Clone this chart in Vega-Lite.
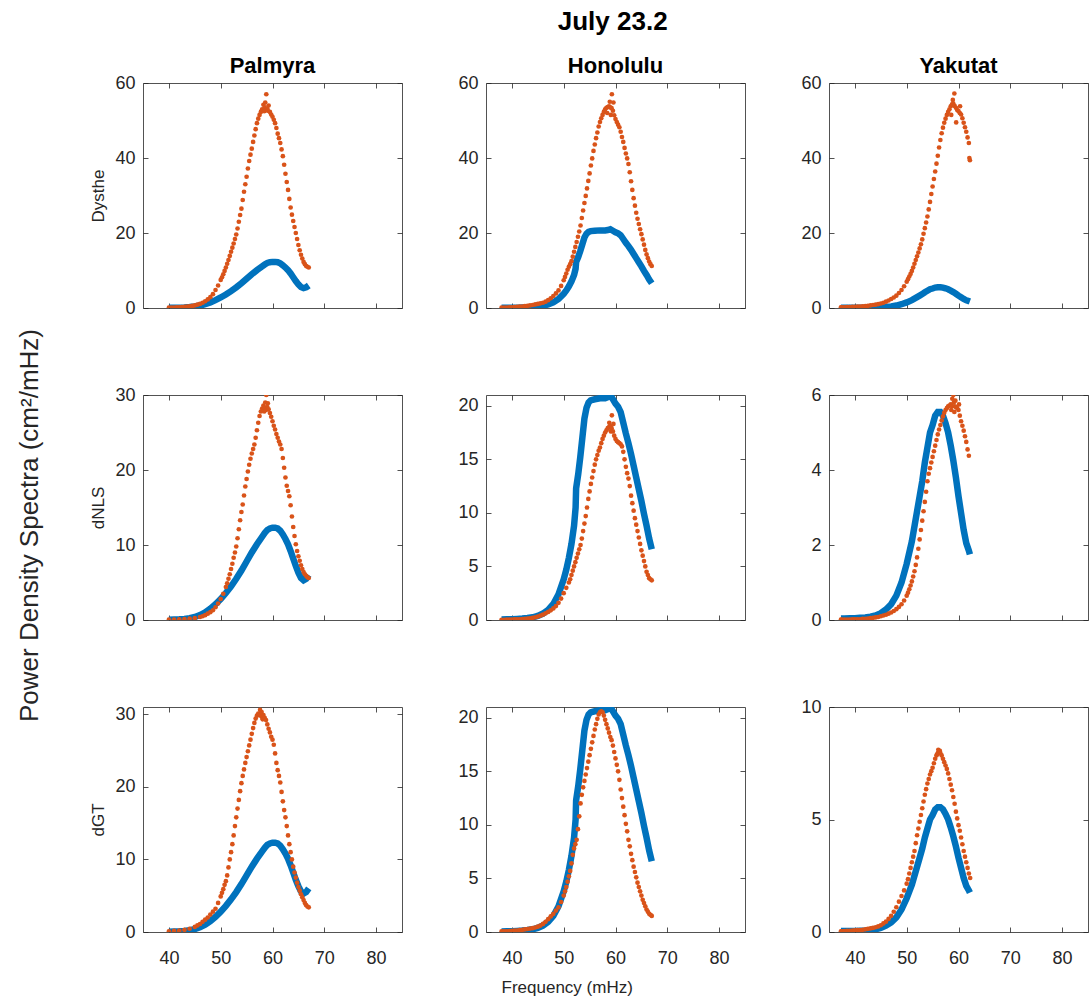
{
"$schema": "https://vega.github.io/schema/vega-lite/v6.json",
"background": "white",
"padding": {"left": 16, "top": 9, "right": 0, "bottom": 0},
"title": {"text": "July 23.2", "fontSize": 26, "fontWeight": "bold", "color": "#000000", "anchor": "middle", "offset": 20, "dx": 60},
"datasets": {
"obs_Palmyra": [{"freq":40,"psd":0.05},{"freq":41,"psd":0.07},{"freq":42,"psd":0.1},{"freq":43,"psd":0.15},{"freq":44,"psd":0.25},{"freq":45,"psd":0.4},{"freq":46,"psd":0.65},{"freq":47,"psd":1.0},{"freq":48,"psd":1.5},{"freq":49,"psd":2.1},{"freq":50,"psd":2.8},{"freq":51,"psd":3.6},{"freq":52,"psd":4.5},{"freq":53,"psd":5.5},{"freq":54,"psd":6.6},{"freq":55,"psd":7.8},{"freq":56,"psd":9.0},{"freq":57,"psd":10.1},{"freq":58,"psd":11.1},{"freq":58.5,"psd":11.6},{"freq":59,"psd":12.0},{"freq":59.5,"psd":12.2},{"freq":60,"psd":12.3},{"freq":60.5,"psd":12.3},{"freq":61,"psd":12.2},{"freq":61.5,"psd":11.9},{"freq":62,"psd":11.4},{"freq":62.5,"psd":10.8},{"freq":63,"psd":10.1},{"freq":63.5,"psd":9.2},{"freq":64,"psd":8.2},{"freq":64.5,"psd":7.2},{"freq":65,"psd":6.3},{"freq":65.5,"psd":5.6},{"freq":66,"psd":5.3},{"freq":66.5,"psd":5.5},{"freq":67,"psd":6.0}],
"obs_Honolulu": [{"freq":38,"psd":0.05},{"freq":39,"psd":0.06},{"freq":40,"psd":0.08},{"freq":41,"psd":0.1},{"freq":42,"psd":0.13},{"freq":43,"psd":0.18},{"freq":44,"psd":0.25},{"freq":45,"psd":0.38},{"freq":46,"psd":0.6},{"freq":47,"psd":0.95},{"freq":48,"psd":1.5},{"freq":49,"psd":2.4},{"freq":50,"psd":3.8},{"freq":50.5,"psd":4.7},{"freq":51,"psd":5.8},{"freq":51.5,"psd":7.1},{"freq":52,"psd":8.8},{"freq":52.3,"psd":10.5},{"freq":52.4,"psd":12.3},{"freq":52.8,"psd":13.6},{"freq":53.2,"psd":15.2},{"freq":53.6,"psd":17.0},{"freq":54,"psd":18.8},{"freq":54.4,"psd":19.8},{"freq":54.8,"psd":20.3},{"freq":55.2,"psd":20.5},{"freq":56,"psd":20.6},{"freq":57,"psd":20.7},{"freq":58,"psd":20.7},{"freq":58.5,"psd":20.8},{"freq":59,"psd":21.0},{"freq":59.5,"psd":20.6},{"freq":60,"psd":20.2},{"freq":60.5,"psd":19.9},{"freq":61,"psd":19.4},{"freq":61.5,"psd":18.4},{"freq":62,"psd":17.4},{"freq":62.5,"psd":16.5},{"freq":63,"psd":15.5},{"freq":63.5,"psd":14.4},{"freq":64,"psd":13.3},{"freq":64.5,"psd":12.2},{"freq":65,"psd":11.1},{"freq":65.5,"psd":9.9},{"freq":66,"psd":8.8},{"freq":66.5,"psd":7.6},{"freq":67,"psd":6.6}],
"obs_Yakutat": [{"freq":37.3,"psd":0.04},{"freq":38,"psd":0.04},{"freq":39,"psd":0.05},{"freq":40,"psd":0.05},{"freq":41,"psd":0.06},{"freq":42,"psd":0.07},{"freq":43,"psd":0.09},{"freq":44,"psd":0.12},{"freq":45,"psd":0.18},{"freq":46,"psd":0.28},{"freq":47,"psd":0.42},{"freq":48,"psd":0.65},{"freq":49,"psd":1.0},{"freq":50,"psd":1.5},{"freq":51,"psd":2.1},{"freq":52,"psd":2.9},{"freq":52.5,"psd":3.3},{"freq":53,"psd":3.7},{"freq":53.5,"psd":4.2},{"freq":54,"psd":4.6},{"freq":54.5,"psd":5.0},{"freq":55,"psd":5.2},{"freq":55.5,"psd":5.45},{"freq":56,"psd":5.55},{"freq":56.5,"psd":5.55},{"freq":57,"psd":5.45},{"freq":57.5,"psd":5.25},{"freq":58,"psd":5.0},{"freq":58.5,"psd":4.65},{"freq":59,"psd":4.25},{"freq":59.5,"psd":3.8},{"freq":60,"psd":3.3},{"freq":60.5,"psd":2.85},{"freq":61,"psd":2.4},{"freq":61.5,"psd":2.05},{"freq":62,"psd":1.85},{"freq":62.2,"psd":1.75}],
"Dysthe_Palmyra": [{"freq":40,"psd":0.1},{"freq":40.5,"psd":0.1},{"freq":41,"psd":0.12},{"freq":41.5,"psd":0.15},{"freq":42,"psd":0.2},{"freq":42.5,"psd":0.25},{"freq":43,"psd":0.3},{"freq":43.5,"psd":0.38},{"freq":44,"psd":0.45},{"freq":44.5,"psd":0.55},{"freq":45,"psd":0.7},{"freq":45.5,"psd":0.9},{"freq":46,"psd":1.1},{"freq":46.5,"psd":1.4},{"freq":47,"psd":1.8},{"freq":47.5,"psd":2.3},{"freq":48,"psd":2.9},{"freq":48.5,"psd":3.7},{"freq":49,"psd":4.8},{"freq":49.5,"psd":6.0},{"freq":50,"psd":7.5},{"freq":50.25,"psd":8.2},{"freq":50.5,"psd":9.0},{"freq":50.75,"psd":9.9},{"freq":51,"psd":10.8},{"freq":51.25,"psd":11.8},{"freq":51.5,"psd":12.8},{"freq":51.75,"psd":13.9},{"freq":52,"psd":15.0},{"freq":52.25,"psd":16.1},{"freq":52.5,"psd":17.2},{"freq":52.75,"psd":18.4},{"freq":53,"psd":19.6},{"freq":53.25,"psd":21.2},{"freq":53.5,"psd":23.0},{"freq":53.75,"psd":24.8},{"freq":54,"psd":26.5},{"freq":54.25,"psd":28.8},{"freq":54.5,"psd":31.0},{"freq":54.75,"psd":33.0},{"freq":55,"psd":35.0},{"freq":55.25,"psd":37.2},{"freq":55.5,"psd":39.2},{"freq":55.75,"psd":40.9},{"freq":56,"psd":42.5},{"freq":56.25,"psd":44.3},{"freq":56.5,"psd":46.0},{"freq":56.75,"psd":47.7},{"freq":57,"psd":49.3},{"freq":57.25,"psd":50.5},{"freq":57.5,"psd":51.5},{"freq":57.75,"psd":52.3},{"freq":58,"psd":53.0},{"freq":58.25,"psd":54.2},{"freq":58.4,"psd":52.5},{"freq":58.5,"psd":53.5},{"freq":58.6,"psd":54.8},{"freq":58.75,"psd":52.8},{"freq":58.8,"psd":57.0},{"freq":59,"psd":53.2},{"freq":59.1,"psd":52.6},{"freq":59.25,"psd":54.0},{"freq":59.5,"psd":52.3},{"freq":59.75,"psd":51.6},{"freq":60,"psd":51.0},{"freq":60.25,"psd":50.2},{"freq":60.5,"psd":49.3},{"freq":60.75,"psd":48.0},{"freq":61,"psd":46.5},{"freq":61.25,"psd":45.3},{"freq":61.5,"psd":44.0},{"freq":61.75,"psd":42.3},{"freq":62,"psd":40.5},{"freq":62.25,"psd":38.2},{"freq":62.5,"psd":35.8},{"freq":62.75,"psd":33.6},{"freq":63,"psd":31.5},{"freq":63.25,"psd":29.1},{"freq":63.5,"psd":26.8},{"freq":63.75,"psd":24.9},{"freq":64,"psd":23.2},{"freq":64.25,"psd":21.6},{"freq":64.5,"psd":20.0},{"freq":64.75,"psd":18.4},{"freq":65,"psd":16.8},{"freq":65.25,"psd":15.4},{"freq":65.5,"psd":14.2},{"freq":65.75,"psd":13.2},{"freq":66,"psd":12.3},{"freq":66.25,"psd":11.7},{"freq":66.5,"psd":11.2},{"freq":66.75,"psd":11.0},{"freq":67,"psd":10.8}],
"dNLS_Palmyra": [{"freq":40,"psd":0.05},{"freq":41,"psd":0.06},{"freq":42,"psd":0.08},{"freq":43,"psd":0.12},{"freq":44,"psd":0.18},{"freq":45,"psd":0.25},{"freq":46,"psd":0.4},{"freq":46.5,"psd":0.5},{"freq":47,"psd":0.65},{"freq":47.5,"psd":0.85},{"freq":48,"psd":1.05},{"freq":48.5,"psd":1.3},{"freq":49,"psd":1.7},{"freq":49.5,"psd":2.2},{"freq":50,"psd":2.8},{"freq":50.5,"psd":3.5},{"freq":51,"psd":4.4},{"freq":51.25,"psd":4.9},{"freq":51.5,"psd":5.5},{"freq":51.75,"psd":6.1},{"freq":52,"psd":6.8},{"freq":52.25,"psd":7.5},{"freq":52.5,"psd":8.3},{"freq":52.75,"psd":9.0},{"freq":53,"psd":9.8},{"freq":53.25,"psd":10.9},{"freq":53.5,"psd":12.1},{"freq":53.75,"psd":13.3},{"freq":54,"psd":14.4},{"freq":54.25,"psd":15.4},{"freq":54.5,"psd":16.6},{"freq":54.75,"psd":17.8},{"freq":55,"psd":18.8},{"freq":55.25,"psd":19.8},{"freq":55.5,"psd":20.7},{"freq":55.75,"psd":21.5},{"freq":56,"psd":22.2},{"freq":56.25,"psd":22.8},{"freq":56.5,"psd":23.4},{"freq":56.75,"psd":24.3},{"freq":57,"psd":25.3},{"freq":57.25,"psd":26.3},{"freq":57.5,"psd":27.2},{"freq":57.75,"psd":27.8},{"freq":58,"psd":28.2},{"freq":58.25,"psd":28.6},{"freq":58.4,"psd":27.8},{"freq":58.5,"psd":28.3},{"freq":58.6,"psd":29.0},{"freq":58.75,"psd":28.0},{"freq":58.8,"psd":30.0},{"freq":59,"psd":28.4},{"freq":59.1,"psd":28.9},{"freq":59.25,"psd":28.1},{"freq":59.5,"psd":27.6},{"freq":59.75,"psd":27.1},{"freq":60,"psd":26.5},{"freq":60.25,"psd":25.9},{"freq":60.5,"psd":25.4},{"freq":60.75,"psd":24.8},{"freq":61,"psd":24.3},{"freq":61.25,"psd":23.8},{"freq":61.5,"psd":23.4},{"freq":61.75,"psd":22.8},{"freq":62,"psd":21.6},{"freq":62.25,"psd":20.3},{"freq":62.5,"psd":19.0},{"freq":62.75,"psd":17.9},{"freq":63,"psd":17.2},{"freq":63.25,"psd":16.5},{"freq":63.5,"psd":15.3},{"freq":63.75,"psd":13.8},{"freq":64,"psd":12.4},{"freq":64.25,"psd":11.2},{"freq":64.5,"psd":10.1},{"freq":64.75,"psd":9.2},{"freq":65,"psd":8.5},{"freq":65.25,"psd":7.9},{"freq":65.5,"psd":7.3},{"freq":65.75,"psd":6.8},{"freq":66,"psd":6.4},{"freq":66.25,"psd":6.1},{"freq":66.5,"psd":5.9},{"freq":66.75,"psd":5.7},{"freq":67,"psd":5.6}],
"dGT_Palmyra": [{"freq":40,"psd":0.1},{"freq":41,"psd":0.15},{"freq":42,"psd":0.2},{"freq":43,"psd":0.3},{"freq":44,"psd":0.45},{"freq":45,"psd":0.7},{"freq":45.5,"psd":0.9},{"freq":46,"psd":1.1},{"freq":46.5,"psd":1.4},{"freq":47,"psd":1.7},{"freq":47.5,"psd":2.0},{"freq":48,"psd":2.4},{"freq":48.5,"psd":2.8},{"freq":49,"psd":3.2},{"freq":49.5,"psd":4.0},{"freq":50,"psd":4.9},{"freq":50.25,"psd":5.4},{"freq":50.5,"psd":5.9},{"freq":50.75,"psd":6.5},{"freq":51,"psd":7.0},{"freq":51.25,"psd":7.8},{"freq":51.5,"psd":8.9},{"freq":51.75,"psd":10.0},{"freq":52,"psd":11.0},{"freq":52.25,"psd":12.1},{"freq":52.5,"psd":13.3},{"freq":52.75,"psd":14.6},{"freq":53,"psd":15.8},{"freq":53.25,"psd":17.0},{"freq":53.5,"psd":18.2},{"freq":53.75,"psd":19.4},{"freq":54,"psd":20.5},{"freq":54.25,"psd":21.5},{"freq":54.5,"psd":22.4},{"freq":54.75,"psd":23.3},{"freq":55,"psd":24.1},{"freq":55.25,"psd":24.9},{"freq":55.5,"psd":25.7},{"freq":55.75,"psd":26.5},{"freq":56,"psd":27.3},{"freq":56.25,"psd":28.1},{"freq":56.5,"psd":28.8},{"freq":56.75,"psd":29.4},{"freq":57,"psd":29.8},{"freq":57.25,"psd":30.1},{"freq":57.5,"psd":30.0},{"freq":57.6,"psd":30.6},{"freq":57.75,"psd":29.8},{"freq":57.9,"psd":30.3},{"freq":58,"psd":29.6},{"freq":58.1,"psd":29.3},{"freq":58.25,"psd":29.9},{"freq":58.5,"psd":29.5},{"freq":58.75,"psd":29.2},{"freq":59,"psd":28.6},{"freq":59.25,"psd":28.0},{"freq":59.5,"psd":27.5},{"freq":59.75,"psd":26.9},{"freq":60,"psd":26.5},{"freq":60.25,"psd":25.8},{"freq":60.5,"psd":24.6},{"freq":60.75,"psd":23.3},{"freq":61,"psd":22.3},{"freq":61.25,"psd":21.5},{"freq":61.5,"psd":20.6},{"freq":61.75,"psd":19.3},{"freq":62,"psd":18.0},{"freq":62.25,"psd":16.8},{"freq":62.5,"psd":15.8},{"freq":62.75,"psd":14.6},{"freq":63,"psd":13.3},{"freq":63.25,"psd":12.1},{"freq":63.5,"psd":11.0},{"freq":63.75,"psd":10.0},{"freq":64,"psd":9.0},{"freq":64.25,"psd":8.2},{"freq":64.5,"psd":7.5},{"freq":64.75,"psd":6.8},{"freq":65,"psd":6.2},{"freq":65.25,"psd":5.7},{"freq":65.5,"psd":5.2},{"freq":65.75,"psd":4.8},{"freq":66,"psd":4.4},{"freq":66.25,"psd":4.0},{"freq":66.5,"psd":3.7},{"freq":66.75,"psd":3.5},{"freq":67,"psd":3.4}],
"Dysthe_Honolulu": [{"freq":38,"psd":0.1},{"freq":38.5,"psd":0.1},{"freq":39,"psd":0.12},{"freq":39.5,"psd":0.15},{"freq":40,"psd":0.2},{"freq":40.5,"psd":0.25},{"freq":41,"psd":0.3},{"freq":41.5,"psd":0.35},{"freq":42,"psd":0.4},{"freq":42.5,"psd":0.5},{"freq":43,"psd":0.6},{"freq":43.5,"psd":0.7},{"freq":44,"psd":0.8},{"freq":44.5,"psd":0.95},{"freq":45,"psd":1.1},{"freq":45.5,"psd":1.25},{"freq":46,"psd":1.4},{"freq":46.5,"psd":1.7},{"freq":47,"psd":2.1},{"freq":47.5,"psd":2.6},{"freq":48,"psd":3.2},{"freq":48.5,"psd":3.9},{"freq":49,"psd":4.7},{"freq":49.5,"psd":5.9},{"freq":50,"psd":7.4},{"freq":50.25,"psd":8.3},{"freq":50.5,"psd":9.2},{"freq":50.75,"psd":10.2},{"freq":51,"psd":11.0},{"freq":51.25,"psd":11.7},{"freq":51.5,"psd":12.5},{"freq":51.75,"psd":13.7},{"freq":52,"psd":15.0},{"freq":52.25,"psd":16.3},{"freq":52.5,"psd":17.6},{"freq":52.75,"psd":19.0},{"freq":53,"psd":20.4},{"freq":53.25,"psd":22.0},{"freq":53.5,"psd":24.0},{"freq":53.75,"psd":26.0},{"freq":54,"psd":28.0},{"freq":54.25,"psd":29.9},{"freq":54.5,"psd":31.9},{"freq":54.75,"psd":33.9},{"freq":55,"psd":35.9},{"freq":55.25,"psd":38.0},{"freq":55.5,"psd":39.9},{"freq":55.75,"psd":41.9},{"freq":56,"psd":43.6},{"freq":56.25,"psd":45.3},{"freq":56.5,"psd":46.8},{"freq":56.75,"psd":48.4},{"freq":57,"psd":49.6},{"freq":57.25,"psd":50.6},{"freq":57.5,"psd":51.5},{"freq":57.75,"psd":52.3},{"freq":58,"psd":53.0},{"freq":58.25,"psd":53.4},{"freq":58.4,"psd":52.0},{"freq":58.5,"psd":53.6},{"freq":58.75,"psd":53.8},{"freq":58.9,"psd":55.0},{"freq":59,"psd":53.5},{"freq":59.1,"psd":51.5},{"freq":59.25,"psd":53.3},{"freq":59.3,"psd":57.0},{"freq":59.5,"psd":52.6},{"freq":59.6,"psd":54.8},{"freq":59.75,"psd":51.4},{"freq":60,"psd":50.4},{"freq":60.25,"psd":49.6},{"freq":60.5,"psd":48.9},{"freq":60.75,"psd":48.2},{"freq":61,"psd":47.0},{"freq":61.25,"psd":45.6},{"freq":61.5,"psd":44.3},{"freq":61.75,"psd":42.7},{"freq":62,"psd":41.2},{"freq":62.25,"psd":39.9},{"freq":62.5,"psd":38.4},{"freq":62.75,"psd":36.2},{"freq":63,"psd":33.8},{"freq":63.25,"psd":31.5},{"freq":63.5,"psd":29.3},{"freq":63.75,"psd":27.3},{"freq":64,"psd":25.4},{"freq":64.25,"psd":23.8},{"freq":64.5,"psd":22.4},{"freq":64.75,"psd":21.0},{"freq":65,"psd":19.7},{"freq":65.25,"psd":18.3},{"freq":65.5,"psd":16.9},{"freq":65.75,"psd":15.5},{"freq":66,"psd":14.3},{"freq":66.25,"psd":13.3},{"freq":66.5,"psd":12.4},{"freq":66.75,"psd":11.7},{"freq":67,"psd":11.2}],
"dNLS_Honolulu": [{"freq":38,"psd":0.02},{"freq":38.5,"psd":0.02},{"freq":39,"psd":0.03},{"freq":39.5,"psd":0.03},{"freq":40,"psd":0.04},{"freq":40.5,"psd":0.05},{"freq":41,"psd":0.06},{"freq":41.5,"psd":0.07},{"freq":42,"psd":0.08},{"freq":42.5,"psd":0.1},{"freq":43,"psd":0.12},{"freq":43.5,"psd":0.15},{"freq":44,"psd":0.2},{"freq":44.5,"psd":0.25},{"freq":45,"psd":0.32},{"freq":45.5,"psd":0.4},{"freq":46,"psd":0.5},{"freq":46.5,"psd":0.62},{"freq":47,"psd":0.75},{"freq":47.5,"psd":0.9},{"freq":48,"psd":1.08},{"freq":48.5,"psd":1.3},{"freq":49,"psd":1.6},{"freq":49.5,"psd":2.0},{"freq":50,"psd":2.5},{"freq":50.5,"psd":3.0},{"freq":51,"psd":3.5},{"freq":51.25,"psd":3.8},{"freq":51.5,"psd":4.2},{"freq":51.75,"psd":4.6},{"freq":52,"psd":5.0},{"freq":52.25,"psd":5.4},{"freq":52.5,"psd":5.8},{"freq":52.75,"psd":6.2},{"freq":53,"psd":6.6},{"freq":53.25,"psd":7.0},{"freq":53.5,"psd":7.6},{"freq":53.75,"psd":8.3},{"freq":54,"psd":9.0},{"freq":54.25,"psd":9.7},{"freq":54.5,"psd":10.5},{"freq":54.75,"psd":11.3},{"freq":55,"psd":12.0},{"freq":55.25,"psd":12.7},{"freq":55.5,"psd":13.3},{"freq":55.75,"psd":13.9},{"freq":56,"psd":14.5},{"freq":56.25,"psd":15.0},{"freq":56.5,"psd":15.4},{"freq":56.75,"psd":15.8},{"freq":57,"psd":16.1},{"freq":57.25,"psd":16.5},{"freq":57.5,"psd":16.9},{"freq":57.75,"psd":17.2},{"freq":58,"psd":17.5},{"freq":58.25,"psd":17.7},{"freq":58.5,"psd":17.9},{"freq":58.75,"psd":18.0},{"freq":58.8,"psd":18.4},{"freq":59,"psd":18.1},{"freq":59.1,"psd":17.6},{"freq":59.25,"psd":17.9},{"freq":59.3,"psd":19.1},{"freq":59.5,"psd":17.6},{"freq":59.6,"psd":18.3},{"freq":59.75,"psd":17.2},{"freq":60,"psd":16.9},{"freq":60.25,"psd":16.7},{"freq":60.5,"psd":16.6},{"freq":60.75,"psd":16.5},{"freq":61,"psd":16.4},{"freq":61.25,"psd":16.2},{"freq":61.5,"psd":15.7},{"freq":61.75,"psd":15.0},{"freq":62,"psd":14.3},{"freq":62.25,"psd":13.7},{"freq":62.5,"psd":13.2},{"freq":62.75,"psd":12.5},{"freq":63,"psd":11.6},{"freq":63.25,"psd":10.9},{"freq":63.5,"psd":10.2},{"freq":63.75,"psd":9.5},{"freq":64,"psd":8.9},{"freq":64.25,"psd":8.3},{"freq":64.5,"psd":7.7},{"freq":64.75,"psd":7.1},{"freq":65,"psd":6.5},{"freq":65.25,"psd":6.0},{"freq":65.5,"psd":5.5},{"freq":65.75,"psd":5.0},{"freq":66,"psd":4.5},{"freq":66.25,"psd":4.2},{"freq":66.5,"psd":3.9},{"freq":66.75,"psd":3.8},{"freq":67,"psd":3.7}],
"dGT_Honolulu": [{"freq":38,"psd":0.05},{"freq":38.5,"psd":0.06},{"freq":39,"psd":0.07},{"freq":39.5,"psd":0.08},{"freq":40,"psd":0.1},{"freq":40.5,"psd":0.12},{"freq":41,"psd":0.14},{"freq":41.5,"psd":0.17},{"freq":42,"psd":0.2},{"freq":42.5,"psd":0.24},{"freq":43,"psd":0.28},{"freq":43.5,"psd":0.32},{"freq":44,"psd":0.36},{"freq":44.5,"psd":0.42},{"freq":45,"psd":0.5},{"freq":45.5,"psd":0.6},{"freq":46,"psd":0.75},{"freq":46.5,"psd":0.95},{"freq":47,"psd":1.2},{"freq":47.5,"psd":1.45},{"freq":48,"psd":1.7},{"freq":48.5,"psd":2.0},{"freq":49,"psd":2.3},{"freq":49.5,"psd":2.8},{"freq":50,"psd":3.4},{"freq":50.25,"psd":3.8},{"freq":50.5,"psd":4.2},{"freq":50.75,"psd":4.7},{"freq":51,"psd":5.2},{"freq":51.25,"psd":5.7},{"freq":51.5,"psd":6.4},{"freq":51.75,"psd":7.2},{"freq":52,"psd":7.8},{"freq":52.25,"psd":8.2},{"freq":52.5,"psd":8.6},{"freq":52.75,"psd":9.6},{"freq":53,"psd":10.8},{"freq":53.25,"psd":12.0},{"freq":53.5,"psd":12.8},{"freq":53.75,"psd":13.5},{"freq":54,"psd":14.1},{"freq":54.25,"psd":14.7},{"freq":54.5,"psd":15.3},{"freq":54.75,"psd":15.9},{"freq":55,"psd":16.5},{"freq":55.25,"psd":17.1},{"freq":55.5,"psd":17.7},{"freq":55.75,"psd":18.3},{"freq":56,"psd":18.9},{"freq":56.25,"psd":19.4},{"freq":56.5,"psd":19.9},{"freq":56.75,"psd":20.3},{"freq":57,"psd":20.5},{"freq":57.25,"psd":20.6},{"freq":57.5,"psd":20.5},{"freq":57.75,"psd":20.2},{"freq":58,"psd":19.8},{"freq":58.25,"psd":19.4},{"freq":58.5,"psd":19.0},{"freq":58.75,"psd":18.6},{"freq":59,"psd":18.2},{"freq":59.25,"psd":17.9},{"freq":59.5,"psd":17.4},{"freq":59.75,"psd":16.8},{"freq":60,"psd":16.2},{"freq":60.25,"psd":15.6},{"freq":60.5,"psd":15.0},{"freq":60.75,"psd":14.2},{"freq":61,"psd":13.3},{"freq":61.25,"psd":12.5},{"freq":61.5,"psd":11.7},{"freq":61.75,"psd":10.9},{"freq":62,"psd":10.1},{"freq":62.25,"psd":9.4},{"freq":62.5,"psd":8.6},{"freq":62.75,"psd":8.0},{"freq":63,"psd":7.3},{"freq":63.25,"psd":6.7},{"freq":63.5,"psd":6.1},{"freq":63.75,"psd":5.6},{"freq":64,"psd":5.1},{"freq":64.25,"psd":4.6},{"freq":64.5,"psd":4.2},{"freq":64.75,"psd":3.8},{"freq":65,"psd":3.4},{"freq":65.25,"psd":3.0},{"freq":65.5,"psd":2.7},{"freq":65.75,"psd":2.4},{"freq":66,"psd":2.1},{"freq":66.25,"psd":1.9},{"freq":66.5,"psd":1.7},{"freq":66.75,"psd":1.6},{"freq":67,"psd":1.5}],
"Dysthe_Yakutat": [{"freq":37.3,"psd":0.2},{"freq":37.5,"psd":0.2},{"freq":38,"psd":0.2},{"freq":38.5,"psd":0.25},{"freq":39,"psd":0.25},{"freq":39.5,"psd":0.3},{"freq":40,"psd":0.3},{"freq":40.5,"psd":0.35},{"freq":41,"psd":0.4},{"freq":41.5,"psd":0.45},{"freq":42,"psd":0.5},{"freq":42.5,"psd":0.6},{"freq":43,"psd":0.7},{"freq":43.5,"psd":0.8},{"freq":44,"psd":0.9},{"freq":44.5,"psd":1.05},{"freq":45,"psd":1.2},{"freq":45.5,"psd":1.4},{"freq":46,"psd":1.7},{"freq":46.5,"psd":2.0},{"freq":47,"psd":2.4},{"freq":47.5,"psd":2.8},{"freq":48,"psd":3.3},{"freq":48.5,"psd":4.0},{"freq":49,"psd":4.8},{"freq":49.5,"psd":5.8},{"freq":50,"psd":7.0},{"freq":50.25,"psd":7.7},{"freq":50.5,"psd":8.4},{"freq":50.75,"psd":9.1},{"freq":51,"psd":9.9},{"freq":51.25,"psd":10.8},{"freq":51.5,"psd":11.8},{"freq":51.75,"psd":12.8},{"freq":52,"psd":13.8},{"freq":52.25,"psd":14.8},{"freq":52.5,"psd":15.9},{"freq":52.75,"psd":17.0},{"freq":53,"psd":18.3},{"freq":53.25,"psd":19.8},{"freq":53.5,"psd":21.3},{"freq":53.75,"psd":22.8},{"freq":54,"psd":24.4},{"freq":54.25,"psd":26.3},{"freq":54.5,"psd":28.3},{"freq":54.75,"psd":30.4},{"freq":55,"psd":32.4},{"freq":55.25,"psd":34.4},{"freq":55.5,"psd":36.4},{"freq":55.75,"psd":38.5},{"freq":56,"psd":40.6},{"freq":56.25,"psd":42.8},{"freq":56.5,"psd":44.8},{"freq":56.75,"psd":46.6},{"freq":57,"psd":48.1},{"freq":57.25,"psd":49.4},{"freq":57.5,"psd":50.5},{"freq":57.75,"psd":51.5},{"freq":58,"psd":52.3},{"freq":58.25,"psd":53.0},{"freq":58.5,"psd":53.8},{"freq":58.6,"psd":51.5},{"freq":58.75,"psd":54.3},{"freq":58.9,"psd":55.5},{"freq":59,"psd":54.5},{"freq":59.2,"psd":57.2},{"freq":59.25,"psd":53.9},{"freq":59.5,"psd":53.4},{"freq":59.55,"psd":49.5},{"freq":59.75,"psd":52.8},{"freq":60,"psd":52.5},{"freq":60.25,"psd":52.0},{"freq":60.3,"psd":53.8},{"freq":60.5,"psd":51.6},{"freq":60.75,"psd":50.6},{"freq":61,"psd":49.4},{"freq":61.25,"psd":48.2},{"freq":61.5,"psd":47.0},{"freq":61.75,"psd":45.5},{"freq":62,"psd":44.0},{"freq":62.1,"psd":40.0},{"freq":62.2,"psd":39.4}],
"dNLS_Yakutat": [{"freq":37.3,"psd":0.01},{"freq":37.5,"psd":0.01},{"freq":38,"psd":0.01},{"freq":38.5,"psd":0.01},{"freq":39,"psd":0.01},{"freq":39.5,"psd":0.02},{"freq":40,"psd":0.02},{"freq":40.5,"psd":0.02},{"freq":41,"psd":0.02},{"freq":41.5,"psd":0.03},{"freq":42,"psd":0.03},{"freq":42.5,"psd":0.04},{"freq":43,"psd":0.05},{"freq":43.5,"psd":0.06},{"freq":44,"psd":0.07},{"freq":44.5,"psd":0.08},{"freq":45,"psd":0.1},{"freq":45.5,"psd":0.12},{"freq":46,"psd":0.14},{"freq":46.5,"psd":0.17},{"freq":47,"psd":0.2},{"freq":47.5,"psd":0.24},{"freq":48,"psd":0.29},{"freq":48.5,"psd":0.35},{"freq":49,"psd":0.42},{"freq":49.5,"psd":0.52},{"freq":50,"psd":0.65},{"freq":50.25,"psd":0.73},{"freq":50.5,"psd":0.82},{"freq":50.75,"psd":0.92},{"freq":51,"psd":1.03},{"freq":51.25,"psd":1.16},{"freq":51.5,"psd":1.3},{"freq":51.75,"psd":1.47},{"freq":52,"psd":1.67},{"freq":52.25,"psd":1.9},{"freq":52.5,"psd":2.15},{"freq":52.75,"psd":2.4},{"freq":53,"psd":2.65},{"freq":53.25,"psd":2.9},{"freq":53.5,"psd":3.15},{"freq":53.75,"psd":3.42},{"freq":54,"psd":3.7},{"freq":54.25,"psd":3.9},{"freq":54.5,"psd":4.05},{"freq":54.75,"psd":4.2},{"freq":55,"psd":4.35},{"freq":55.25,"psd":4.5},{"freq":55.5,"psd":4.65},{"freq":55.75,"psd":4.8},{"freq":56,"psd":4.95},{"freq":56.25,"psd":5.08},{"freq":56.5,"psd":5.2},{"freq":56.75,"psd":5.32},{"freq":57,"psd":5.43},{"freq":57.25,"psd":5.53},{"freq":57.5,"psd":5.6},{"freq":57.75,"psd":5.65},{"freq":58,"psd":5.7},{"freq":58.25,"psd":5.72},{"freq":58.5,"psd":5.75},{"freq":58.6,"psd":5.6},{"freq":58.75,"psd":5.7},{"freq":58.8,"psd":5.9},{"freq":59,"psd":6.0},{"freq":59.1,"psd":5.8},{"freq":59.2,"psd":5.55},{"freq":59.25,"psd":5.7},{"freq":59.4,"psd":5.85},{"freq":59.5,"psd":5.68},{"freq":59.75,"psd":5.65},{"freq":60,"psd":5.6},{"freq":60.1,"psd":5.75},{"freq":60.25,"psd":5.45},{"freq":60.5,"psd":5.3},{"freq":60.75,"psd":5.18},{"freq":61,"psd":5.05},{"freq":61.25,"psd":4.9},{"freq":61.5,"psd":4.75},{"freq":61.75,"psd":4.55},{"freq":62,"psd":4.38}],
"dGT_Yakutat": [{"freq":37.3,"psd":0.03},{"freq":37.5,"psd":0.03},{"freq":38,"psd":0.04},{"freq":38.5,"psd":0.05},{"freq":39,"psd":0.05},{"freq":39.5,"psd":0.06},{"freq":40,"psd":0.07},{"freq":40.5,"psd":0.08},{"freq":41,"psd":0.09},{"freq":41.5,"psd":0.1},{"freq":42,"psd":0.12},{"freq":42.5,"psd":0.14},{"freq":43,"psd":0.16},{"freq":43.5,"psd":0.18},{"freq":44,"psd":0.21},{"freq":44.5,"psd":0.25},{"freq":45,"psd":0.3},{"freq":45.5,"psd":0.38},{"freq":46,"psd":0.46},{"freq":46.5,"psd":0.58},{"freq":47,"psd":0.72},{"freq":47.5,"psd":0.9},{"freq":48,"psd":1.1},{"freq":48.5,"psd":1.35},{"freq":49,"psd":1.6},{"freq":49.5,"psd":1.85},{"freq":50,"psd":2.15},{"freq":50.25,"psd":2.35},{"freq":50.5,"psd":2.6},{"freq":50.75,"psd":2.85},{"freq":51,"psd":3.1},{"freq":51.25,"psd":3.35},{"freq":51.5,"psd":3.6},{"freq":51.75,"psd":3.95},{"freq":52,"psd":4.3},{"freq":52.25,"psd":4.6},{"freq":52.5,"psd":4.9},{"freq":52.75,"psd":5.2},{"freq":53,"psd":5.5},{"freq":53.25,"psd":5.8},{"freq":53.5,"psd":6.1},{"freq":53.75,"psd":6.35},{"freq":54,"psd":6.6},{"freq":54.25,"psd":6.8},{"freq":54.5,"psd":7.0},{"freq":54.75,"psd":7.15},{"freq":55,"psd":7.3},{"freq":55.25,"psd":7.5},{"freq":55.5,"psd":7.7},{"freq":55.75,"psd":7.85},{"freq":55.9,"psd":7.9},{"freq":56,"psd":7.95},{"freq":56.1,"psd":8.1},{"freq":56.25,"psd":8.0},{"freq":56.4,"psd":8.05},{"freq":56.5,"psd":7.95},{"freq":56.75,"psd":7.85},{"freq":57,"psd":7.7},{"freq":57.25,"psd":7.55},{"freq":57.5,"psd":7.4},{"freq":57.75,"psd":7.25},{"freq":58,"psd":7.05},{"freq":58.25,"psd":6.8},{"freq":58.5,"psd":6.55},{"freq":58.75,"psd":6.3},{"freq":59,"psd":6.0},{"freq":59.25,"psd":5.7},{"freq":59.5,"psd":5.35},{"freq":59.75,"psd":5.05},{"freq":60,"psd":4.75},{"freq":60.25,"psd":4.5},{"freq":60.5,"psd":4.2},{"freq":60.75,"psd":3.9},{"freq":61,"psd":3.6},{"freq":61.25,"psd":3.35},{"freq":61.5,"psd":3.1},{"freq":61.75,"psd":2.85},{"freq":62,"psd":2.6},{"freq":62.25,"psd":2.4}]
},
"vconcat": [{
"title": {"text": "Power Density Spectra (cm²/mHz)", "orient": "left", "anchor": "middle", "fontSize": 26, "fontWeight": "normal", "color": "#262626", "offset": 47},
"vconcat": [{
"title": {"text": "Frequency (mHz)", "orient": "bottom", "anchor": "middle", "fontSize": 17, "fontWeight": "normal", "color": "#262626", "offset": 13, "dx": -22},
"columns": 3,
"spacing": {"row": 87, "column": 84},
"bounds": "flush",
"concat": [
{"title": "Palmyra", "width": 259, "height": 225, "resolve": {"axis": {"x": "independent", "y": "independent"}}, "layer": [
 {"data": {"name": "obs_Palmyra"}, "mark": {"type": "line", "color": "#0072BD", "strokeWidth": 6.5, "clip": true},
  "encoding": {"x": {"field": "freq", "type": "quantitative", "scale": {"domain": [35, 85]}, "axis": {"values": [40,50,60,70,80], "labels": false, "title": null}},
   "y": {"field": "psd", "type": "quantitative", "scale": {"domain": [0, 60]}, "axis": {"values": [0,20,40,60], "title": "Dysthe"}}}},
 {"data": {"name": "Dysthe_Palmyra"}, "mark": {"type": "circle", "color": "#D95319", "size": 22, "opacity": 1, "clip": true},
  "encoding": {"x": {"field": "freq", "type": "quantitative", "scale": {"domain": [35, 85]}, "axis": {"orient": "top", "values": [40,50,60,70,80], "labels": false, "title": null}},
   "y": {"field": "psd", "type": "quantitative", "scale": {"domain": [0, 60]}, "axis": {"orient": "right", "values": [0,20,40,60], "labels": false, "title": null}}}}
]},
{"title": "Honolulu", "width": 259, "height": 225, "resolve": {"axis": {"x": "independent", "y": "independent"}}, "layer": [
 {"data": {"name": "obs_Honolulu"}, "mark": {"type": "line", "color": "#0072BD", "strokeWidth": 6.5, "clip": true},
  "encoding": {"x": {"field": "freq", "type": "quantitative", "scale": {"domain": [35, 85]}, "axis": {"values": [40,50,60,70,80], "labels": false, "title": null}},
   "y": {"field": "psd", "type": "quantitative", "scale": {"domain": [0, 60]}, "axis": {"values": [0,20,40,60], "title": null}}}},
 {"data": {"name": "Dysthe_Honolulu"}, "mark": {"type": "circle", "color": "#D95319", "size": 22, "opacity": 1, "clip": true},
  "encoding": {"x": {"field": "freq", "type": "quantitative", "scale": {"domain": [35, 85]}, "axis": {"orient": "top", "values": [40,50,60,70,80], "labels": false, "title": null}},
   "y": {"field": "psd", "type": "quantitative", "scale": {"domain": [0, 60]}, "axis": {"orient": "right", "values": [0,20,40,60], "labels": false, "title": null}}}}
]},
{"title": "Yakutat", "width": 259, "height": 225, "resolve": {"axis": {"x": "independent", "y": "independent"}}, "layer": [
 {"data": {"name": "obs_Yakutat"}, "mark": {"type": "line", "color": "#0072BD", "strokeWidth": 6.5, "clip": true},
  "encoding": {"x": {"field": "freq", "type": "quantitative", "scale": {"domain": [35, 85]}, "axis": {"values": [40,50,60,70,80], "labels": false, "title": null}},
   "y": {"field": "psd", "type": "quantitative", "scale": {"domain": [0, 60]}, "axis": {"values": [0,20,40,60], "title": null}}}},
 {"data": {"name": "Dysthe_Yakutat"}, "mark": {"type": "circle", "color": "#D95319", "size": 22, "opacity": 1, "clip": true},
  "encoding": {"x": {"field": "freq", "type": "quantitative", "scale": {"domain": [35, 85]}, "axis": {"orient": "top", "values": [40,50,60,70,80], "labels": false, "title": null}},
   "y": {"field": "psd", "type": "quantitative", "scale": {"domain": [0, 60]}, "axis": {"orient": "right", "values": [0,20,40,60], "labels": false, "title": null}}}}
]},
{"width": 259, "height": 225, "resolve": {"axis": {"x": "independent", "y": "independent"}}, "layer": [
 {"data": {"name": "obs_Palmyra"}, "mark": {"type": "line", "color": "#0072BD", "strokeWidth": 6.5, "clip": true},
  "encoding": {"x": {"field": "freq", "type": "quantitative", "scale": {"domain": [35, 85]}, "axis": {"values": [40,50,60,70,80], "labels": false, "title": null}},
   "y": {"field": "psd", "type": "quantitative", "scale": {"domain": [0, 30]}, "axis": {"values": [0,10,20,30], "title": "dNLS"}}}},
 {"data": {"name": "dNLS_Palmyra"}, "mark": {"type": "circle", "color": "#D95319", "size": 22, "opacity": 1, "clip": true},
  "encoding": {"x": {"field": "freq", "type": "quantitative", "scale": {"domain": [35, 85]}, "axis": {"orient": "top", "values": [40,50,60,70,80], "labels": false, "title": null}},
   "y": {"field": "psd", "type": "quantitative", "scale": {"domain": [0, 30]}, "axis": {"orient": "right", "values": [0,10,20,30], "labels": false, "title": null}}}}
]},
{"width": 259, "height": 225, "resolve": {"axis": {"x": "independent", "y": "independent"}}, "layer": [
 {"data": {"name": "obs_Honolulu"}, "mark": {"type": "line", "color": "#0072BD", "strokeWidth": 6.5, "clip": true},
  "encoding": {"x": {"field": "freq", "type": "quantitative", "scale": {"domain": [35, 85]}, "axis": {"values": [40,50,60,70,80], "labels": false, "title": null}},
   "y": {"field": "psd", "type": "quantitative", "scale": {"domain": [0, 21]}, "axis": {"values": [0,5,10,15,20], "title": null}}}},
 {"data": {"name": "dNLS_Honolulu"}, "mark": {"type": "circle", "color": "#D95319", "size": 22, "opacity": 1, "clip": true},
  "encoding": {"x": {"field": "freq", "type": "quantitative", "scale": {"domain": [35, 85]}, "axis": {"orient": "top", "values": [40,50,60,70,80], "labels": false, "title": null}},
   "y": {"field": "psd", "type": "quantitative", "scale": {"domain": [0, 21]}, "axis": {"orient": "right", "values": [0,5,10,15,20], "labels": false, "title": null}}}}
]},
{"width": 259, "height": 225, "resolve": {"axis": {"x": "independent", "y": "independent"}}, "layer": [
 {"data": {"name": "obs_Yakutat"}, "mark": {"type": "line", "color": "#0072BD", "strokeWidth": 6.5, "clip": true},
  "encoding": {"x": {"field": "freq", "type": "quantitative", "scale": {"domain": [35, 85]}, "axis": {"values": [40,50,60,70,80], "labels": false, "title": null}},
   "y": {"field": "psd", "type": "quantitative", "scale": {"domain": [0, 6]}, "axis": {"values": [0,2,4,6], "title": null}}}},
 {"data": {"name": "dNLS_Yakutat"}, "mark": {"type": "circle", "color": "#D95319", "size": 22, "opacity": 1, "clip": true},
  "encoding": {"x": {"field": "freq", "type": "quantitative", "scale": {"domain": [35, 85]}, "axis": {"orient": "top", "values": [40,50,60,70,80], "labels": false, "title": null}},
   "y": {"field": "psd", "type": "quantitative", "scale": {"domain": [0, 6]}, "axis": {"orient": "right", "values": [0,2,4,6], "labels": false, "title": null}}}}
]},
{"width": 259, "height": 225, "resolve": {"axis": {"x": "independent", "y": "independent"}}, "layer": [
 {"data": {"name": "obs_Palmyra"}, "mark": {"type": "line", "color": "#0072BD", "strokeWidth": 6.5, "clip": true},
  "encoding": {"x": {"field": "freq", "type": "quantitative", "scale": {"domain": [35, 85]}, "axis": {"values": [40,50,60,70,80], "title": null}},
   "y": {"field": "psd", "type": "quantitative", "scale": {"domain": [0, 31]}, "axis": {"values": [0,10,20,30], "title": "dGT"}}}},
 {"data": {"name": "dGT_Palmyra"}, "mark": {"type": "circle", "color": "#D95319", "size": 22, "opacity": 1, "clip": true},
  "encoding": {"x": {"field": "freq", "type": "quantitative", "scale": {"domain": [35, 85]}, "axis": {"orient": "top", "values": [40,50,60,70,80], "labels": false, "title": null}},
   "y": {"field": "psd", "type": "quantitative", "scale": {"domain": [0, 31]}, "axis": {"orient": "right", "values": [0,10,20,30], "labels": false, "title": null}}}}
]},
{"width": 259, "height": 225, "resolve": {"axis": {"x": "independent", "y": "independent"}}, "layer": [
 {"data": {"name": "obs_Honolulu"}, "mark": {"type": "line", "color": "#0072BD", "strokeWidth": 6.5, "clip": true},
  "encoding": {"x": {"field": "freq", "type": "quantitative", "scale": {"domain": [35, 85]}, "axis": {"values": [40,50,60,70,80], "title": null}},
   "y": {"field": "psd", "type": "quantitative", "scale": {"domain": [0, 21]}, "axis": {"values": [0,5,10,15,20], "title": null}}}},
 {"data": {"name": "dGT_Honolulu"}, "mark": {"type": "circle", "color": "#D95319", "size": 22, "opacity": 1, "clip": true},
  "encoding": {"x": {"field": "freq", "type": "quantitative", "scale": {"domain": [35, 85]}, "axis": {"orient": "top", "values": [40,50,60,70,80], "labels": false, "title": null}},
   "y": {"field": "psd", "type": "quantitative", "scale": {"domain": [0, 21]}, "axis": {"orient": "right", "values": [0,5,10,15,20], "labels": false, "title": null}}}}
]},
{"width": 259, "height": 225, "resolve": {"axis": {"x": "independent", "y": "independent"}}, "layer": [
 {"data": {"name": "obs_Yakutat"}, "mark": {"type": "line", "color": "#0072BD", "strokeWidth": 6.5, "clip": true},
  "encoding": {"x": {"field": "freq", "type": "quantitative", "scale": {"domain": [35, 85]}, "axis": {"values": [40,50,60,70,80], "title": null}},
   "y": {"field": "psd", "type": "quantitative", "scale": {"domain": [0, 10]}, "axis": {"values": [0,5,10], "title": null}}}},
 {"data": {"name": "dGT_Yakutat"}, "mark": {"type": "circle", "color": "#D95319", "size": 22, "opacity": 1, "clip": true},
  "encoding": {"x": {"field": "freq", "type": "quantitative", "scale": {"domain": [35, 85]}, "axis": {"orient": "top", "values": [40,50,60,70,80], "labels": false, "title": null}},
   "y": {"field": "psd", "type": "quantitative", "scale": {"domain": [0, 10]}, "axis": {"orient": "right", "values": [0,5,10], "labels": false, "title": null}}}}
]}
]
}]
}],
"config": {
 "font": "Liberation Sans",
 "view": {"stroke": null},
 "axis": {"grid": false, "domainColor": "#262626", "domainWidth": 0.8, "tickColor": "#262626", "tickWidth": 0.8, "tickSize": -5, "labelColor": "#262626", "labelFontSize": 18, "labelPadding": 13, "titleColor": "#262626", "titleFontSize": 17, "titleFontWeight": "normal", "titlePadding": 7},
 "axisX": {"labelPadding": 22},
 "title": {"fontSize": 22, "fontWeight": "bold", "color": "#000000", "offset": -4}
}
}
